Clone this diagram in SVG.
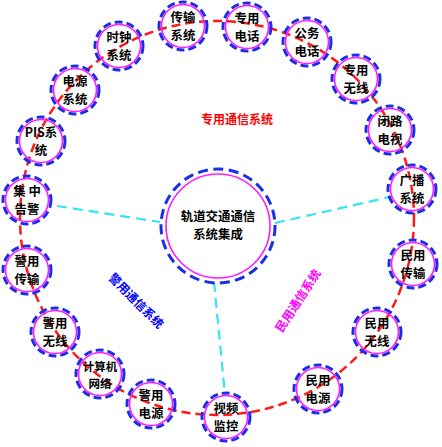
<svg xmlns="http://www.w3.org/2000/svg" width="442" height="447" viewBox="0 0 442 447">
<style>
.ring{fill:none;stroke:#ff1a1a;stroke-width:2.5;stroke-dasharray:9 5}
.link{fill:none;stroke:#33e6f0;stroke-width:2.2;stroke-dasharray:10 6}
.ob{fill:none;stroke:#1a2ee6;stroke-width:3;stroke-dasharray:8 4}
.ib{fill:none;stroke:#ff1aff;stroke-width:1.6}
.cb{fill:none;stroke:#1a2ee6;stroke-width:3;stroke-dasharray:10 5.5}
text{font-family:"Noto Sans CJK SC","Noto Sans",sans-serif;font-weight:bold;text-anchor:middle;dominant-baseline:central}
.t{font-size:12.4px;fill:#000}
.ts{font-size:11.5px;fill:#000}
.lab{font-size:12px}
</style>
<rect width="442" height="447" fill="#fff"/>
<g id="connectors">
<circle class="ring" cx="217" cy="218" r="197"/>
<line class="link" x1="57" y1="206" x2="160" y2="222"/>
<line class="link" x1="275" y1="223" x2="390" y2="197"/>
<line class="link" x1="214" y1="282" x2="225" y2="395"/>
</g>
<g id="center">
<circle class="cb" cx="218" cy="226" r="57"/>
<circle class="ib" cx="218" cy="226" r="52"/>
<text class="t" x="218" y="216">轨道交通通信</text>
<text class="t" x="218" y="234">系统集成</text>
</g>
<g id="n1"><circle class="ob" cx="183" cy="26" r="24"/><circle class="ib" cx="183" cy="26" r="21.5"/><text class="t" x="183" y="17">传输</text><text class="t" x="183" y="35">系统</text></g>
<g id="n2"><circle class="ob" cx="247" cy="27" r="24"/><circle class="ib" cx="247" cy="27" r="21.5"/><text class="t" x="247" y="18">专用</text><text class="t" x="247" y="36">电话</text></g>
<g id="n3"><circle class="ob" cx="307" cy="42" r="24"/><circle class="ib" cx="307" cy="42" r="21.5"/><text class="t" x="307" y="33">公务</text><text class="t" x="307" y="51">电话</text></g>
<g id="n4"><circle class="ob" cx="356" cy="79" r="24"/><circle class="ib" cx="356" cy="79" r="21.5"/><text class="t" x="356" y="70">专用</text><text class="t" x="356" y="88">无线</text></g>
<g id="n5"><circle class="ob" cx="390" cy="130" r="24"/><circle class="ib" cx="390" cy="130" r="21.5"/><text class="t" x="390" y="121">闭路</text><text class="t" x="390" y="139">电视</text></g>
<g id="n6"><circle class="ob" cx="412" cy="189" r="24"/><circle class="ib" cx="412" cy="189" r="21.5"/><text class="t" x="412" y="180">广播</text><text class="t" x="412" y="198">系统</text></g>
<g id="n7"><circle class="ob" cx="413" cy="264" r="24"/><circle class="ib" cx="413" cy="264" r="21.5"/><text class="t" x="413" y="255">民用</text><text class="t" x="413" y="273">传输</text></g>
<g id="n8"><circle class="ob" cx="377" cy="332" r="24"/><circle class="ib" cx="377" cy="332" r="21.5"/><text class="t" x="377" y="323">民用</text><text class="t" x="377" y="341">无线</text></g>
<g id="n9"><circle class="ob" cx="318" cy="389" r="24"/><circle class="ib" cx="318" cy="389" r="21.5"/><text class="t" x="318" y="380">民用</text><text class="t" x="318" y="398">电源</text></g>
<g id="n10"><circle class="ob" cx="226" cy="417" r="24"/><circle class="ib" cx="226" cy="417" r="21.5"/><text class="t" x="226" y="408">视频</text><text class="t" x="226" y="426">监控</text></g>
<g id="n11"><circle class="ob" cx="151" cy="404" r="24"/><circle class="ib" cx="151" cy="404" r="21.5"/><text class="t" x="151" y="395">警用</text><text class="t" x="151" y="413">电源</text></g>
<g id="n12"><circle class="ob" cx="100" cy="374" r="24"/><circle class="ib" cx="100" cy="374" r="21.5"/><text class="ts" x="100" y="365.5">计算机</text><text class="ts" x="100" y="382.5">网络</text></g>
<g id="n13"><circle class="ob" cx="55" cy="332" r="24"/><circle class="ib" cx="55" cy="332" r="21.5"/><text class="t" x="55" y="323">警用</text><text class="t" x="55" y="341">无线</text></g>
<g id="n14"><circle class="ob" cx="27" cy="270" r="24"/><circle class="ib" cx="27" cy="270" r="21.5"/><text class="t" x="27" y="261">警用</text><text class="t" x="27" y="279">传输</text></g>
<g id="n15"><circle class="ob" cx="27" cy="200" r="24"/><circle class="ib" cx="27" cy="200" r="21.5"/><text class="t" x="27" y="191">集 中</text><text class="t" x="27" y="209">告警</text></g>
<g id="n16"><circle class="ob" cx="41" cy="141" r="24"/><circle class="ib" cx="41" cy="141" r="21.5"/><text class="t" x="41" y="132">PIS系</text><text class="t" x="41" y="150">统</text></g>
<g id="n17"><circle class="ob" cx="75" cy="90" r="24"/><circle class="ib" cx="75" cy="90" r="21.5"/><text class="t" x="75" y="81">电源</text><text class="t" x="75" y="99">系统</text></g>
<g id="n18"><circle class="ob" cx="119" cy="46" r="24"/><circle class="ib" cx="119" cy="46" r="21.5"/><text class="t" x="119" y="37">时钟</text><text class="t" x="119" y="55">系统</text></g>
<g id="labels">
<text class="lab" x="237" y="118" fill="#ff0000">专用通信系统</text>
<text class="lab" x="137" y="300" fill="#0000ff" transform="rotate(45 137 300)">警用通信系统</text>
<text class="lab" x="297" y="300" fill="#ff00ff" transform="rotate(-57 297 300)">民用通信系统</text>
</g>
</svg>
